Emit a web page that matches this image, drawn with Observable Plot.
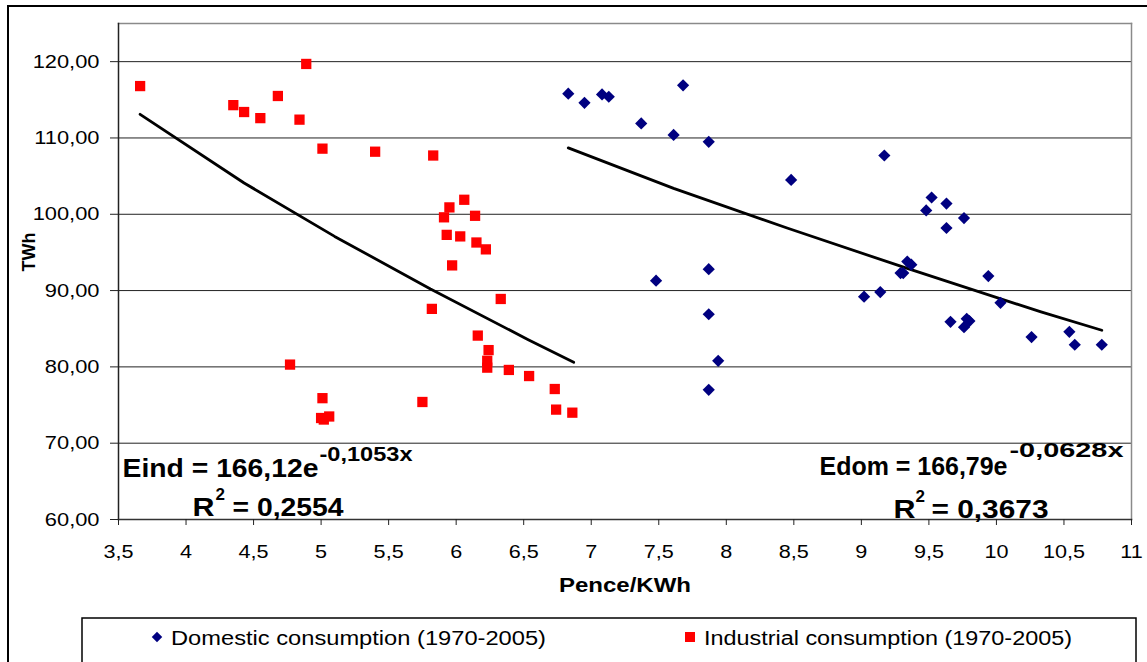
<!DOCTYPE html>
<html><head><meta charset="utf-8">
<script src="https://cdn.jsdelivr.net/npm/d3@7"></script>
<script src="https://cdn.jsdelivr.net/npm/@observablehq/plot@0.6"></script>
<style>
html,body{margin:0;padding:0;background:#fff;}
#wrap{position:relative;width:1147px;height:662px;overflow:hidden;background:#fff;font-family:"Liberation Sans",Arial,sans-serif;}
#outer{position:absolute;left:7px;top:5px;width:1200px;height:700px;border-top:2px solid #000;border-left:2px solid #000;}
#chart{position:absolute;left:0;top:0;}
#legend{position:absolute;left:0;top:612px;}
</style></head><body>
<div id="wrap"><div id="outer"></div><div id="chart"></div><svg id="legend" width="1147" height="50"></svg></div>
<script>
// ---- data ----
const domX = [6.83,6.95,7.08,7.13,7.68,7.37,7.61,7.87,8.48,7.87,7.48,7.87,7.94,7.87,9.17,9.52,9.63,9.48,9.76,9.63,9.34,9.37,9.29,9.31,9.94,9.02,9.14,10.03,9.66,9.78,9.80,9.76,10.26,10.54,10.58,10.78];
const domY = [115.8,114.6,115.7,115.4,116.9,111.9,110.4,109.5,104.5,92.8,91.3,86.9,80.8,77.0,107.7,102.2,101.4,100.5,99.5,98.2,93.8,93.4,92.3,92.3,91.9,89.2,89.8,88.4,85.9,86.3,86.0,85.2,83.9,84.6,82.9,82.9];
const indX = [3.66,4.35,4.43,4.55,4.68,4.89,4.84,5.01,5.40,5.83,6.06,5.95,5.91,6.14,5.93,6.03,6.15,6.22,5.97,6.33,5.82,6.16,6.24,6.23,6.23,6.39,6.54,6.73,6.74,6.86,4.77,5.01,5.00,5.02,5.06,5.75];
const indY = [116.8,114.3,113.4,112.6,115.5,119.7,112.4,108.6,108.2,107.7,101.9,100.9,99.6,99.8,97.3,97.1,96.3,95.4,93.3,88.9,87.6,84.1,82.2,80.8,79.9,79.6,78.8,77.1,74.4,74.0,80.3,75.9,73.3,73.1,73.5,75.4];
// trend lines
const indTrendX = [3.66, 4.43, 5.10, 5.81, 6.53, 6.87];
const indTrendY = [113.1, 104.1, 97.1, 90.2, 83.6, 80.6];
const domTrendX = [6.83, 7.61, 8.45, 9.34, 10.33, 10.78];
const domTrendY = [108.7, 103.4, 98.2, 92.9, 87.2, 84.8];
const xTicks = [3.5,4,4.5,5,5.5,6,6.5,7,7.5,8,8.5,9,9.5,10,10.5,11];
const yTicks = [60,70,80,90,100,110,120];
const seriesNames = ["Domestic consumption (1970-2005)", "Industrial consumption (1970-2005)"];
const seriesColors = ["#000080", "#ff0000"];

const domestic = domX.map((x, i) => ({x, y: domY[i]}));
const industrial = indX.map((x, i) => ({x, y: indY[i]}));
const indTrend = indTrendX.map((x, i) => ({x, y: indTrendY[i]}));
const domTrend = domTrendX.map((x, i) => ({x, y: domTrendY[i]}));

const F = "'Liberation Sans', Arial, sans-serif";
function txt(label, key, o) {
  return Plot.text([label], Object.assign({text: d => d, textAnchor: "start", lineAnchor: "bottom",
    fontWeight: "bold", fill: "black", ariaLabel: () => key}, o));
}

const chart = Plot.plot({
  width: 1147, height: 612,
  marginLeft: 118, marginRight: 16, marginTop: 23, marginBottom: 93,
  style: {fontFamily: F, fontSize: "18px", color: "black", background: "transparent", overflow: "visible"},
  x: {domain: [3.5, 11]},
  y: {domain: [60, 125]},
  marks: [
    Plot.gridY(yTicks.slice(1), {stroke: "#222", strokeOpacity: 1, strokeWidth: 1}),
    Plot.frame({anchor: "top", stroke: "#8a8a8a", strokeWidth: 1.5}),
    Plot.frame({anchor: "right", stroke: "#8a8a8a", strokeWidth: 1.5}),
    Plot.frame({anchor: "left", stroke: "#222", strokeWidth: 1.5}),
    Plot.frame({anchor: "bottom", stroke: "#333", strokeWidth: 1.5}),
    Plot.axisY({ticks: yTicks, tickSize: 8, tickPadding: 11, label: null, stroke: "#222",
      tickFormat: d => d.toFixed(2).replace(".", ","), fontSize: 19}),
    Plot.axisX({ticks: xTicks, tickSize: 6, tickPadding: 20, label: null, stroke: "#222",
      tickFormat: d => String(d).replace(".", ","), fontSize: 18}),
    Plot.text(["TWh"], {frameAnchor: "left", dx: -89, rotate: -90, fontWeight: "bold", fontSize: 18, text: d => d}),
    Plot.text(["Pence/KWh"], {frameAnchor: "bottom", dy: 72, fontWeight: "bold", fontSize: 20, text: d => d, ariaLabel: () => "xlab"}),
    Plot.line(indTrend, {x: "x", y: "y", stroke: "black", strokeWidth: 2.8}),
    Plot.line(domTrend, {x: "x", y: "y", stroke: "black", strokeWidth: 2.8}),
    Plot.dot(domestic, {x: "x", y: "y", symbol: "diamond2", r: 5.5, fill: seriesColors[0], stroke: "none"}),
    Plot.dot(industrial, {x: "x", y: "y", symbol: "square", r: 5.8, fill: seriesColors[1], stroke: "none"}),
    // equations
    txt("Eind = 166,12e", "eq1", {frameAnchor: "bottom-left", dx: 4, dy: -43, fontSize: 26}),
    txt("-0,1053x", "eq2", {frameAnchor: "bottom-left", dx: 201, dy: -59, fontSize: 20}),
    txt("R", "eq3", {frameAnchor: "bottom-left", dx: 74, dy: -4, fontSize: 26}),
    txt("2", "eq4", {frameAnchor: "bottom-left", dx: 97, dy: -20, fontSize: 17}),
    txt("= 0,2554", "eq5", {frameAnchor: "bottom-left", dx: 114, dy: -4, fontSize: 26}),
    txt("Edom = 166,79e", "eq6", {frameAnchor: "bottom-right", dx: -312, dy: -45, fontSize: 26}),
    txt("-0,0628x", "eq7", {frameAnchor: "bottom-right", dx: -122, dy: -63, fontSize: 20}),
    txt("R", "eq8", {frameAnchor: "bottom-right", dx: -238, dy: -2, fontSize: 26}),
    txt("2", "eq9", {frameAnchor: "bottom-right", dx: -216, dy: -18, fontSize: 17}),
    txt("= 0,3673", "eq10", {frameAnchor: "bottom-right", dx: -200, dy: -2, fontSize: 26})
  ]
});
document.getElementById("chart").appendChild(chart);

const svg = d3.select(chart);
function stretch(sel, k) {
  sel.each(function() {
    const w = this.getComputedTextLength();
    this.setAttribute("textLength", w * k);
    this.setAttribute("lengthAdjust", "spacingAndGlyphs");
  });
}
function fitTo(sel, w) {
  sel.each(function() {
    this.setAttribute("textLength", w);
    this.setAttribute("lengthAdjust", "spacingAndGlyphs");
  });
}
stretch(svg.selectAll('[aria-label="y-axis tick label"] text'), 1.15);
stretch(svg.selectAll('[aria-label="x-axis tick label"] text'), 1.2);
stretch(svg.selectAll('text[aria-label="xlab"]'), 1.2);
const widths = {eq1: 196, eq2: 93, eq3: 22, eq5: 111, eq6: 188, eq7: 114, eq8: 22, eq10: 117};
for (const k in widths) fitTo(svg.selectAll(`text[aria-label="${k}"]`), widths[k]);

// legend
const lg = d3.select("#legend");
lg.append("rect").attr("x", 82).attr("y", 6).attr("width", 1054).attr("height", 80)
  .attr("fill", "none").attr("stroke", "#000").attr("stroke-width", 1.5);
const legendX = [157, 690];
seriesNames.forEach((name, i) => {
  const g = lg.append("g").attr("transform", `translate(${legendX[i]},25)`);
  if (i === 0) g.append("path").attr("d", d3.symbol(d3.symbolDiamond2, 70)()).attr("fill", seriesColors[0]);
  else g.append("rect").attr("x", -5).attr("y", -5).attr("width", 10).attr("height", 10).attr("fill", seriesColors[1]);
  const t = g.append("text").attr("x", 14).attr("y", 8).attr("font-family", F).attr("font-size", 20).attr("fill", "#000").text(name);
  const target = i === 0 ? 375 : 368;
  t.attr("textLength", target).attr("lengthAdjust", "spacingAndGlyphs");
});
</script></body></html>
